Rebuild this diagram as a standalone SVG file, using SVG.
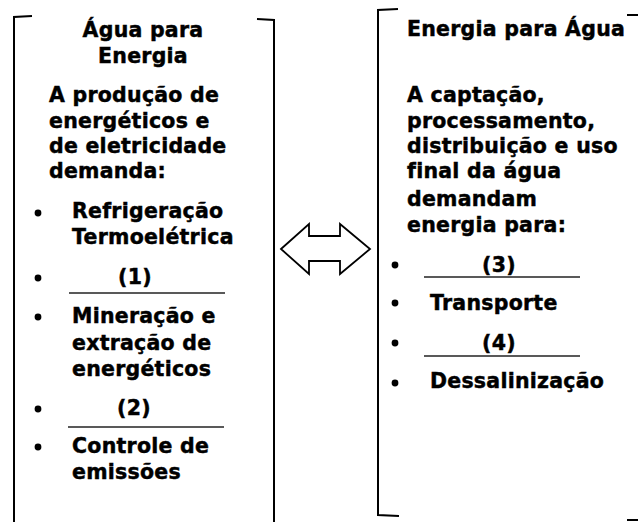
<svg xmlns="http://www.w3.org/2000/svg" width="638" height="522" viewBox="0 0 638 522">
<style>
text{font-family:"DejaVu Sans",Verdana,sans-serif;font-weight:bold;font-size:20.5px;fill:#000;stroke:#000;stroke-width:0.45;letter-spacing:0.25px}
.br{fill:none;stroke:#000;stroke-width:2}
.ul{stroke:#222;stroke-width:1.5}
.mid{text-anchor:middle}
</style>
<rect width="638" height="522" fill="#fff"/>
<g id="left-box">
<path class="br" d="M32,16 L14,17 L14,522"/>
<path class="br" d="M257,19 L274,20 L274,522"/>
<text class="mid" x="143" y="37">Água para</text>
<text class="mid" x="143" y="63">Energia</text>
<text x="49" y="102">A produção de</text>
<text x="49" y="128">energéticos e</text>
<text x="49" y="153">de eletricidade</text>
<text x="49" y="178">demanda:</text>
<circle cx="38" cy="213" r="3.4"/>
<text x="72" y="218">Refrigeração</text>
<text x="72" y="244">Termoelétrica</text>
<circle cx="38" cy="278" r="3.4"/>
<text class="mid" x="135" y="284">(1)</text>
<line class="ul" x1="69" y1="293" x2="225" y2="293"/>
<circle cx="38" cy="317" r="3.4"/>
<text x="72" y="323">Mineração e</text>
<text x="72" y="350">extração de</text>
<text x="72" y="376">energéticos</text>
<circle cx="38" cy="409" r="3.4"/>
<text class="mid" x="134" y="415">(2)</text>
<line class="ul" x1="68" y1="427" x2="224" y2="427"/>
<circle cx="38" cy="447" r="3.4"/>
<text x="72" y="453">Controle de</text>
<text x="72" y="479">emissões</text>
</g>
<g id="right-box">
<path class="br" d="M398,9 L378,10 L378,515 L399,516"/>
<line class="br" x1="627" y1="15" x2="638" y2="15"/>
<line class="br" x1="627" y1="520" x2="638" y2="520"/>
<text x="407" y="36">Energia para Água</text>
<text x="407" y="102">A captação,</text>
<text x="407" y="128">processamento,</text>
<text x="407" y="153">distribuição e uso</text>
<text x="407" y="178">final da água</text>
<text x="407" y="206">demandam</text>
<text x="407" y="232">energia para:</text>
<circle cx="395" cy="265" r="3.4"/>
<text class="mid" x="499" y="272">(3)</text>
<line class="ul" x1="424" y1="277" x2="580" y2="277"/>
<circle cx="395" cy="303" r="3.4"/>
<text x="430" y="310">Transporte</text>
<circle cx="395" cy="343" r="3.4"/>
<text class="mid" x="499" y="350">(4)</text>
<line class="ul" x1="424" y1="356" x2="580" y2="356"/>
<circle cx="395" cy="383" r="3.4"/>
<text x="430" y="388">Dessalinização</text>
</g>
<g id="connectors">
<path d="M281,249 L309,224 L309,236 L340,236 L340,224 L370,249 L340,274 L340,261 L309,261 L309,274 Z" fill="#fff" stroke="#000" stroke-width="1.8" stroke-linejoin="miter"/>
</g>
</svg>
